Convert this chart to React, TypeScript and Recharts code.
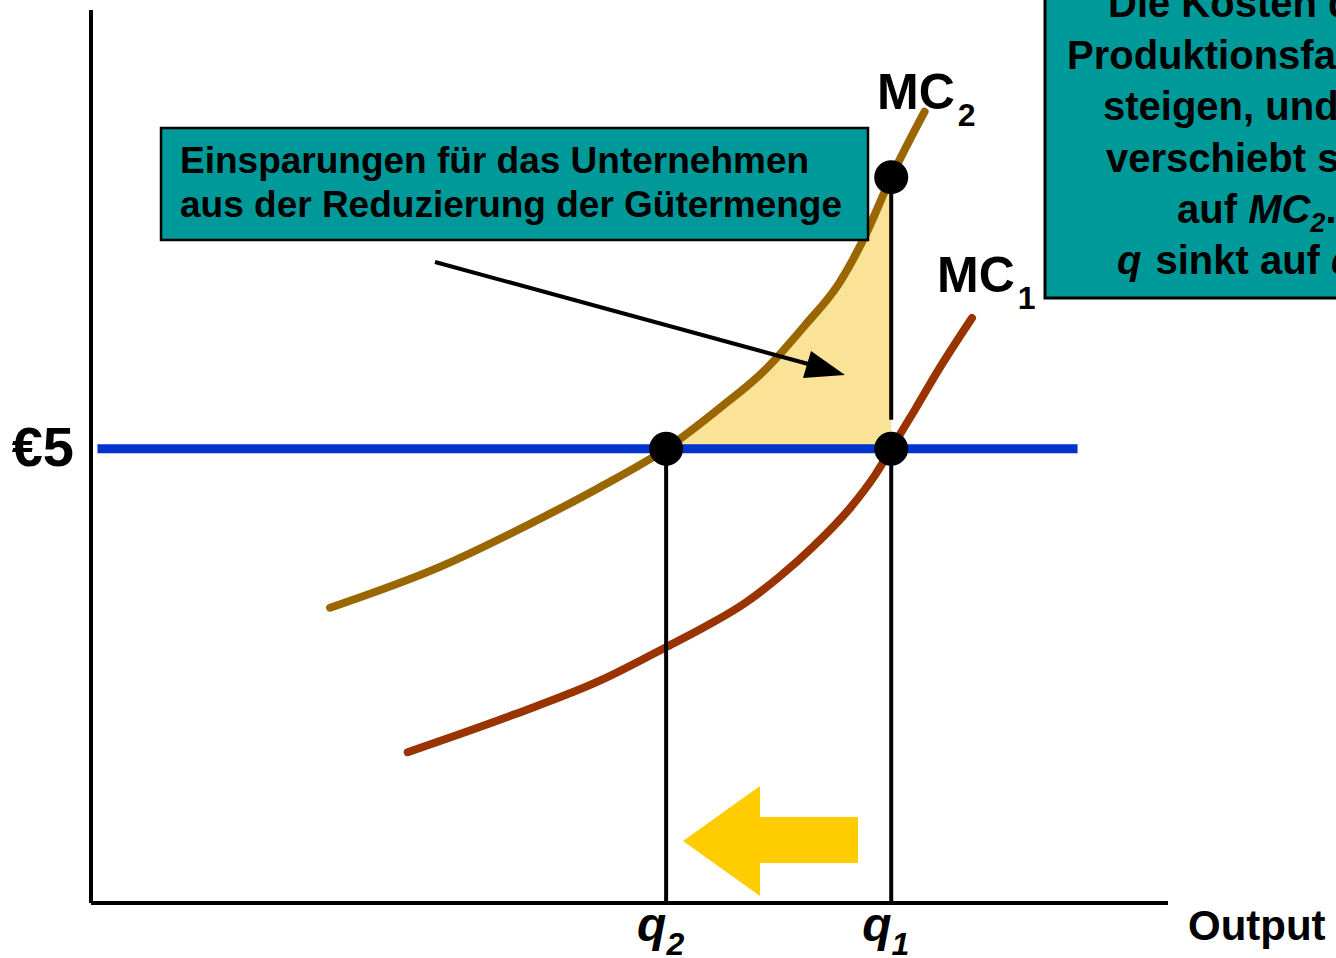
import React from "react";
import {
  Area,
  ComposedChart,
  Line,
  Scatter,
  XAxis,
  YAxis,
} from "recharts";

// Kurvenpunkte (x = Menge, y = Preis)
const mc2X = [2.22, 3.24, 4.17, 4.73, 5.34, 5.84, 6.26, 6.63, 6.95, 7.17, 7.43, 7.74];
const mc2Y = [3.25, 3.7, 4.23, 4.58, 5.0, 5.45, 5.87, 6.36, 6.83, 7.3, 7.99, 8.71];

const mc1X = [2.94, 3.94, 4.73, 5.33, 5.7, 6.07, 6.4, 6.72, 7.05, 7.28, 7.43, 7.65, 7.88, 8.18];
const mc1Y = [1.66, 2.08, 2.45, 2.81, 3.04, 3.3, 3.6, 3.94, 4.35, 4.71, 5.0, 5.43, 5.89, 6.44];

const price = 5;
const priceFrom = 0.06;
const priceTo = 9.16;
const q2 = 5.34;
const q1 = 7.43;
const mc2AtQ1 = 7.99;
const q1GapTop = 5.32;

const xTicks = [q2, q1];
const xTickLabels = ["2", "1"];
const yTicks = [price];

const FONT = '"Liberation Sans", Arial, sans-serif';
const TEAL = "#009999";

const toPoints = (xs: number[], ys: number[]) => xs.map((x, i) => ({ x, y: ys[i] }));

const mc2Data = toPoints(mc2X, mc2Y);
const mc1Data = toPoints(mc1X, mc1Y);
const savingsData = mc2Data.filter((p) => p.x >= q2 && p.x <= q1);
const priceData = toPoints([priceFrom, priceTo], [price, price]);
const q2Line = toPoints([q2, q2], [0, price]);
const q1Lower = toPoints([q1, q1], [0, price]);
const q1Upper = toPoints([q1, q1], [q1GapTop, mc2AtQ1]);
const dotData = toPoints([q2, q1, q1], [price, price, mc2AtQ1]);

function QTick(props: any) {
  const { x, y, index } = props;
  return (
    <text
      x={x - 29}
      y={y + 30}
      fontFamily={FONT}
      fontWeight="bold"
      fontStyle="italic"
      fontSize={48}
      fill="#000"
    >
      q
      <tspan fontSize={32} dy={14}>
        {xTickLabels[index]}
      </tspan>
    </text>
  );
}

function PriceTick(props: any) {
  const { x, y } = props;
  return (
    <text
      x={x - 9}
      y={y + 17}
      textAnchor="end"
      fontFamily={FONT}
      fontWeight="bold"
      fontSize={56}
      fill="#000"
    >
      €5
    </text>
  );
}

function Dot(props: any) {
  return <circle cx={props.cx} cy={props.cy} r={17} fill="#000" />;
}

function Annotations() {
  const rightLines = [
    { t: "Die Kosten der", x: 1108 },
    { t: "Produktionsfaktoren", x: 1067 },
    { t: "steigen, und MC", x: 1103 },
    { t: "verschiebt sich", x: 1106 },
  ];
  return (
    <svg
      width={1336}
      height={958}
      style={{ position: "absolute", left: 0, top: 0, pointerEvents: "none" }}
    >
      <g fontFamily={FONT} fontWeight="bold" fill="#000">
        {/* Pfeil zur Fläche */}
        <line x1={435} y1={262} x2={812} y2={365} stroke="#000" strokeWidth={4} />
        <polygon points="845,375 803,378 811,351" fill="#000" />

        {/* Linksverschiebung */}
        <polygon
          points="683,841 760,786 760,817 858,817 858,863 760,863 760,896"
          fill="#FFCC00"
        />

        <rect x={161} y={128} width={707} height={112} fill={TEAL} stroke="#000" strokeWidth={2.5} />
        <text x={180} y={173} fontSize={37}>
          Einsparungen für das Unternehmen
        </text>
        <text x={180} y={217} fontSize={37}>
          aus der Reduzierung der Gütermenge
        </text>

        <rect x={1045} y={-10} width={420} height={308} fill={TEAL} stroke="#000" strokeWidth={3} />
        {rightLines.map((l, i) => (
          <text key={l.t} x={l.x} y={17 + i * 51.5} fontSize={40}>
            {l.t}
          </text>
        ))}
        <text x={1177} y={223} fontSize={40}>
          auf <tspan fontStyle="italic">MC</tspan>
          <tspan fontSize={27} dy={9} fontStyle="italic">2</tspan>
          <tspan dy={-9}>.</tspan>
        </text>
        <text x={1117} y={274} fontSize={40}>
          <tspan fontStyle="italic">q</tspan>
          <tspan dx={14}>sinkt auf </tspan>
          <tspan fontStyle="italic">q</tspan>
          <tspan fontSize={27} dy={9} fontStyle="italic">2</tspan>
          <tspan dy={-9}>.</tspan>
        </text>

        <text x={877} y={109} fontSize={50}>
          MC<tspan fontSize={32} dx={3} dy={17}>2</tspan>
        </text>
        <text x={937} y={292} fontSize={50}>
          MC<tspan fontSize={32} dx={3} dy={17}>1</tspan>
        </text>

        <text x={1188} y={940} fontSize={42}>
          Output
        </text>
      </g>
    </svg>
  );
}

export default function App() {
  return (
    <div
      style={{
        position: "absolute",
        left: 0,
        top: 0,
        width: 1336,
        height: 958,
        background: "#fff",
      }}
    >
      <ComposedChart
        width={1336}
        height={958}
        margin={{ top: 10, right: 168, bottom: 0, left: 0 }}
      >
        <XAxis
          type="number"
          dataKey="x"
          domain={[0, 10]}
          ticks={xTicks}
          tick={<QTick />}
          tickLine={false}
          axisLine={{ stroke: "#000", strokeWidth: 4 }}
          height={55}
          allowDataOverflow
        />
        <YAxis
          type="number"
          dataKey="y"
          domain={[0, 9.83]}
          ticks={yTicks}
          tick={<PriceTick />}
          tickLine={false}
          axisLine={{ stroke: "#000", strokeWidth: 4 }}
          width={91}
          allowDataOverflow
        />
        <Area
          data={savingsData}
          dataKey="y"
          type="linear"
          baseValue={price}
          fill="#FAE396"
          fillOpacity={1}
          stroke="none"
          isAnimationActive={false}
        />
        <Line
          data={mc2Data}
          dataKey="y"
          type="monotone"
          stroke="#996600"
          strokeWidth={8}
          strokeLinecap="round"
          dot={false}
          isAnimationActive={false}
        />
        <Line
          data={mc1Data}
          dataKey="y"
          type="monotone"
          stroke="#993300"
          strokeWidth={8}
          strokeLinecap="round"
          dot={false}
          isAnimationActive={false}
        />
        <Line data={q2Line} dataKey="y" stroke="#000" strokeWidth={4} dot={false} isAnimationActive={false} />
        <Line data={q1Lower} dataKey="y" stroke="#000" strokeWidth={4} dot={false} isAnimationActive={false} />
        <Line data={q1Upper} dataKey="y" stroke="#000" strokeWidth={4} dot={false} isAnimationActive={false} />
        <Scatter data={dotData} dataKey="y" shape={<Dot />} isAnimationActive={false} />
        <Line
          data={priceData}
          dataKey="y"
          stroke="#0033CC"
          strokeWidth={9}
          dot={false}
          isAnimationActive={false}
        />
      </ComposedChart>
      <Annotations />
    </div>
  );
}
